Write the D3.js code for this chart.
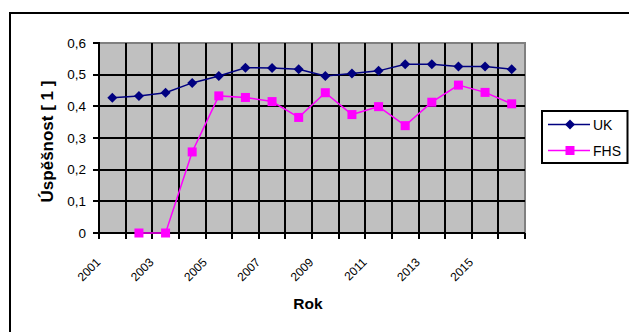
<!DOCTYPE html>
<html>
<head>
<meta charset="utf-8">
<script src="https://cdn.jsdelivr.net/npm/d3@7"></script>
<style>
  html, body { margin: 0; padding: 0; background: #fff; }
  svg { display: block; font-family: "Liberation Sans", Arial, sans-serif; }
</style>
</head>
<body>
<svg id="chart" width="629" height="332"></svg>
<script>
// Years on the category axis
const years = ["2001","2002","2003","2004","2005","2006","2007","2008",
               "2009","2010","2011","2012","2013","2014","2015","2016"];
// Success rate per year
const ukValues  = [0.427, 0.433, 0.443, 0.474, 0.496, 0.522, 0.521, 0.517,
                   0.496, 0.504, 0.512, 0.533, 0.533, 0.526, 0.526, 0.517];
const fhsValues = [null, 0, 0, 0.256, 0.433, 0.428, 0.415, 0.365,
                   0.443, 0.374, 0.399, 0.339, 0.413, 0.467, 0.444, 0.408];
// Value axis ticks and their labels
const yTicks = [0, 0.1, 0.2, 0.3, 0.4, 0.5, 0.6];
const yTickLabels = ["0", "0,1", "0,2", "0,3", "0,4", "0,5", "0,6"];
// Years that get a label on the category axis
const xLabelYears = ["2001","2003","2005","2007","2009","2011","2013","2015"];
const seriesNames = ["UK", "FHS"];

const svg = d3.select("#chart");
const plot = { left: 99, right: 525, top: 43, bottom: 233 };

const x = d3.scaleBand().domain(years).range([plot.left, plot.right]).padding(0);
const y = d3.scaleLinear().domain([0, 0.6]).range([plot.bottom, plot.top]);
const cx = d => x(d) + x.bandwidth() / 2;
const snap = v => Math.round(v);

// Outer chart frame
svg.append("rect")
  .attr("x", 10).attr("y", 13).attr("width", 660).attr("height", 360)
  .attr("fill", "none").attr("stroke", "#000").attr("stroke-width", 2);

// Plot background
svg.append("rect")
  .attr("x", plot.left).attr("y", plot.top)
  .attr("width", plot.right - plot.left).attr("height", plot.bottom - plot.top)
  .attr("fill", "#c0c0c0").attr("stroke", "#808080").attr("stroke-width", 2);

// Horizontal gridlines
svg.append("g").selectAll("line").data(yTicks.slice(1, -1)).join("line")
  .attr("x1", plot.left).attr("x2", plot.right)
  .attr("y1", d => snap(y(d))).attr("y2", d => snap(y(d)))
  .attr("stroke", "#000").attr("stroke-width", 2);

// Vertical gridlines at category boundaries
const boundaries = years.slice(1).map(d => snap(x(d)));
svg.append("g").selectAll("line").data(boundaries).join("line")
  .attr("x1", d => d).attr("x2", d => d)
  .attr("y1", plot.top).attr("y2", plot.bottom)
  .attr("stroke", "#000").attr("stroke-width", 2);

// Value axis
const yAxis = d3.axisLeft(y).tickValues(yTicks)
  .tickFormat((d, i) => yTickLabels[i]).tickSize(0).tickPadding(13);
const yg = svg.append("g").attr("transform", `translate(${plot.left},0)`).call(yAxis);
yg.select(".domain").remove();
yg.selectAll(".tick text").attr("font-size", 13.5).attr("fill", "#000")
  .attr("font-family", "Liberation Sans, Arial, sans-serif");
svg.append("line")
  .attr("x1", plot.left).attr("x2", plot.left)
  .attr("y1", plot.top - 1).attr("y2", plot.bottom + 1)
  .attr("stroke", "#000").attr("stroke-width", 2);
svg.append("g").selectAll("line").data(yTicks).join("line")
  .attr("x1", plot.left - 6).attr("x2", plot.left)
  .attr("y1", d => snap(y(d))).attr("y2", d => snap(y(d)))
  .attr("stroke", "#000").attr("stroke-width", 2);

// Category axis: ticks at every boundary
const allBounds = [plot.left].concat(boundaries, [plot.right]);
svg.append("line")
  .attr("x1", plot.left).attr("x2", plot.right)
  .attr("y1", plot.bottom).attr("y2", plot.bottom)
  .attr("stroke", "#000").attr("stroke-width", 2);
svg.append("g").selectAll("line").data(allBounds).join("line")
  .attr("x1", d => d).attr("x2", d => d)
  .attr("y1", plot.bottom).attr("y2", plot.bottom + 6)
  .attr("stroke", "#000").attr("stroke-width", 2);

// Rotated year labels
svg.append("g").selectAll("text").data(xLabelYears).join("text")
  .attr("transform", d => `translate(${cx(d) - 11},${plot.bottom + 30}) rotate(-45)`)
  .attr("text-anchor", "end")
  .attr("font-size", 12)
  .text(d => d);

// Axis titles
svg.append("text")
  .attr("transform", `translate(53,141.5) rotate(-90)`)
  .attr("text-anchor", "middle")
  .attr("font-size", 17).attr("font-weight", "bold")
  .text("Úspěšnost [ 1 ]");
svg.append("text")
  .attr("x", 308).attr("y", 309)
  .attr("text-anchor", "middle")
  .attr("font-size", 15.5).attr("font-weight", "bold")
  .text("Rok");

// Series
const ukColor = "#000080", fhsColor = "#ff00ff";
const line = d3.line()
  .defined(d => d.v !== null)
  .x(d => cx(d.year)).y(d => y(d.v));
const ukData = years.map((yr, i) => ({ year: yr, v: ukValues[i] }));
const fhsData = years.map((yr, i) => ({ year: yr, v: fhsValues[i] }));

svg.append("path").datum(ukData).attr("d", line)
  .attr("fill", "none").attr("stroke", ukColor).attr("stroke-width", 1.5);
svg.append("path").datum(fhsData).attr("d", line)
  .attr("fill", "none").attr("stroke", fhsColor).attr("stroke-width", 1.5);

function diamondPath(s) {
  return `M0,${-s}L${s},0L0,${s}L${-s},0Z`;
}
svg.append("g").selectAll("path").data(ukData).join("path")
  .attr("d", diamondPath(5))
  .attr("transform", d => `translate(${cx(d.year)},${y(d.v)})`)
  .attr("fill", ukColor);
svg.append("g").selectAll("rect").data(fhsData.filter(d => d.v !== null)).join("rect")
  .attr("x", d => cx(d.year) - 4.5).attr("y", d => y(d.v) - 4.5)
  .attr("width", 9).attr("height", 9)
  .attr("fill", fhsColor);

// Legend
const lg = svg.append("g");
lg.append("rect")
  .attr("x", 542).attr("y", 111).attr("width", 85.5).attr("height", 52)
  .attr("fill", "#fff").attr("stroke", "#000").attr("stroke-width", 2);
const legendRows = [
  { name: seriesNames[0], color: ukColor, yy: 124.5, shape: "diamond" },
  { name: seriesNames[1], color: fhsColor, yy: 150.5, shape: "square" }
];
legendRows.forEach(r => {
  lg.append("line").attr("x1", 548).attr("x2", 590)
    .attr("y1", r.yy).attr("y2", r.yy)
    .attr("stroke", r.color).attr("stroke-width", 1.5);
  if (r.shape === "diamond") {
    lg.append("path").attr("d", diamondPath(5))
      .attr("transform", `translate(570,${r.yy})`).attr("fill", r.color);
  } else {
    lg.append("rect").attr("x", 565.5).attr("y", r.yy - 4.5)
      .attr("width", 9).attr("height", 9).attr("fill", r.color);
  }
  lg.append("text").attr("x", 593).attr("y", r.yy).attr("dy", "0.36em")
    .attr("font-size", 14).text(r.name);
});
</script>
</body>
</html>
